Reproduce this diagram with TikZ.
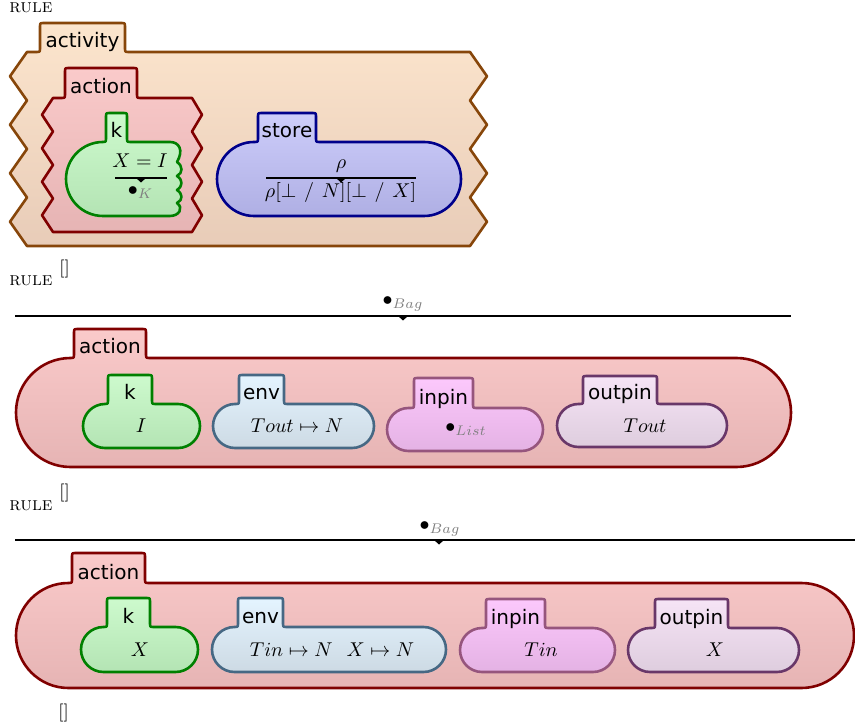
\documentclass[tikz,border=0pt]{standalone}
\usepackage{fontspec}
\newfontfamily\cellfont{DejaVu Sans}
\definecolor{activityT}{RGB}{252,229,205}
\definecolor{activityD}{RGB}{232,204,184}
\definecolor{activityB}{RGB}{135,70,10}
\definecolor{actionT}{RGB}{250,202,202}
\definecolor{actionD}{RGB}{230,180,180}
\definecolor{actionB}{RGB}{128,0,0}
\definecolor{kT}{RGB}{205,250,205}
\definecolor{kD}{RGB}{180,228,180}
\definecolor{kB}{RGB}{0,128,0}
\definecolor{storeT}{RGB}{205,205,250}
\definecolor{storeD}{RGB}{175,175,228}
\definecolor{storeB}{RGB}{0,0,139}
\definecolor{envT}{RGB}{228,244,255}
\definecolor{envD}{RGB}{205,218,228}
\definecolor{envB}{RGB}{70,104,132}
\definecolor{inpinT}{RGB}{252,200,252}
\definecolor{inpinD}{RGB}{228,178,228}
\definecolor{inpinB}{RGB}{150,85,125}
\definecolor{outpinT}{RGB}{246,228,246}
\definecolor{outpinD}{RGB}{222,205,222}
\definecolor{outpinB}{RGB}{105,55,105}
\definecolor{subgray}{RGB}{128,128,128}
\tikzset{
  cellbase/.style={line width=1.3pt, line join=round},
  activitycell/.style={cellbase, draw=activityB, top color=activityT, bottom color=activityD},
  actioncell/.style={cellbase, draw=actionB, top color=actionT, bottom color=actionD},
  kcellst/.style={cellbase, draw=kB, top color=kT, bottom color=kD},
  storecell/.style={cellbase, draw=storeB, top color=storeT, bottom color=storeD},
  envcell/.style={cellbase, draw=envB, top color=envT, bottom color=envD},
  inpincell/.style={cellbase, draw=inpinB, top color=inpinT, bottom color=inpinD},
  outpincell/.style={cellbase, draw=outpinB, top color=outpinT, bottom color=outpinD},
  lbl/.style={font=\cellfont\fontsize{10}{12}\selectfont, anchor=base, inner sep=0pt},
  txt/.style={font=\fontsize{10}{12}\selectfont, anchor=base, inner sep=0pt},
  rulelbl/.style={font=\fontsize{9.5}{11}\selectfont, anchor=base west, inner sep=0pt},
  attrlbl/.style={font=\fontsize{9}{11}\selectfont, anchor=base west, inner sep=0pt},
  ruleline/.style={line width=0.65pt},
  rwline/.style={line width=0.65pt},
}
\newcommand\kcell[8]{%
  \pgfmathsetmacro\kcR{(#5-#4)/2}%
  \path[#1] ({#2+\kcR},#5) arc[start angle=90,end angle=270,radius=\kcR]
    -- ({#6-3},#4) .. controls (#6,#4) .. (#6,{#4-3})
    -- (#6,{#8+3}) .. controls (#6,#8) .. ({#6+3},#8)
    -- ({#7-3},#8) .. controls (#7,#8) .. (#7,{#8+3})
    -- (#7,{#4-3}) .. controls (#7,#4) .. ({#7+3},#4)
    -- ({#3-\kcR},#4) arc[start angle=-90,end angle=90,radius=\kcR] -- cycle;%
}
\newcommand\rwtri[2]{\fill ({#1-5},#2) -- ({#1+5},#2) -- (#1,{#2+4.5}) -- cycle;}
\begin{document}
\begin{tikzpicture}[x=0.5pt,y=-0.5pt]
\useasboundingbox (0,0) rectangle (855,726);
% ---------------- rule 1
\node[rulelbl] (rule1) at (9,13) {\textsc{rule}};
\path[activitycell] (27,52) -- (37,52) .. controls (40,52) .. (40,49) -- (40,26) .. controls (40,23) .. (43,23)
  -- (122,23) .. controls (125,23) .. (125,26) -- (125,49) .. controls (125,52) .. (128,52)
  -- (470,52) -- (487,76.25) -- (470,100.5) -- (487,124.75) -- (470,149) -- (487,173.25) -- (470,197.5) -- (487,221.75) -- (470,246)
  -- (27,246) -- (10,221.75) -- (27,197.5) -- (10,173.25) -- (27,149) -- (10,124.75) -- (27,100.5) -- (10,76.25) -- cycle;
\node[lbl] (activity1) at (82.5,48) {activity};
\path[actioncell] (53,98) -- (62,98) .. controls (65,98) .. (65,95) -- (65,71) .. controls (65,68) .. (68,68)
  -- (134,68) .. controls (137,68) .. (137,71) -- (137,95) .. controls (137,98) .. (140,98)
  -- (192,98) -- (202,114.75) -- (192,131.5) -- (202,148.25) -- (192,165) -- (202,181.75) -- (192,198.5) -- (202,215.25) -- (192,232)
  -- (53,232) -- (42,215.25) -- (53,198.5) -- (42,181.75) -- (53,165) -- (42,148.25) -- (53,131.5) -- (42,114.75) -- cycle;
\node[lbl] (action1) at (101,94) {action};
\path[kcellst] (103,216) arc[start angle=90,end angle=270,radius=37]
  .. controls (106,142) .. (106,139) -- (106,116) .. controls (106,113) .. (109,113)
  -- (124,113) .. controls (127,113) .. (127,116) -- (127,139) .. controls (127,142) .. (130,142)
  -- (170,142) .. controls (179,142) and (184,150) .. (177,162)
  .. controls (183,166) and (183,173) .. (177,176)
  .. controls (183,180) and (183,186) .. (177,190)
  .. controls (183,194) and (183,200) .. (177,203)
  .. controls (184,208) and (179,216) .. (170,216) -- cycle;
\node[lbl] (k1) at (116.5,138) {k};
\node[txt] (k1top) at (140,168) {$X = I$};
\draw[rwline] (115,178) -- (167,178);
\rwtri{141}{178}
\node[txt] (k1bot) at (140.5,196) {$\bullet_{\textcolor{subgray}{K}}$};
\kcell{storecell}{217}{461}{142}{216}{258}{316}{113}
\node[lbl] (store1) at (287,138) {store};
\node[txt] (store1top) at (341,169) {$\rho$};
\draw[rwline] (266,178) -- (416,178);
\rwtri{341}{178}
\node[txt] (store1bot) at (340.5,198) {$\rho[\bot \mathrel{\mskip2mu\textsf{/}\mskip2mu} N][\bot \mathrel{\mskip2mu\textsf{/}\mskip2mu} X]$};
\node[attrlbl] (attr1) at (59,273.5) {[]};
% ---------------- rule 2
\node[rulelbl] (rule2) at (9,286) {\textsc{rule}};
\node[txt] (bag2) at (403,306) {$\bullet_{\textcolor{subgray}{Bag}}$};
\draw[ruleline] (15,316) -- (791,316);
\rwtri{403}{316}
\kcell{actioncell}{16}{791}{358}{467}{74}{146}{329}
\node[lbl] (action2) at (110,354) {action};
\kcell{kcellst}{83}{200}{404}{448}{108}{152}{375}
\node[lbl] (k2) at (130,400) {k};
\node[txt] (k2txt) at (141,432) {$I$};
\kcell{envcell}{213}{374}{404}{448}{239}{284}{375}
\node[lbl] (env2) at (261.5,400) {env};
\node[txt] (env2txt) at (297,432) {$Tout \mapsto N$};
\kcell{inpincell}{387}{543}{408}{451}{414}{473}{378}
\node[lbl] (inpin2) at (443.5,404) {inpin};
\node[txt] (inpin2txt) at (466,432) {$\bullet_{\textcolor{subgray}{List}}$};
\kcell{outpincell}{557}{727}{404}{447}{583}{657}{376}
\node[lbl] (outpin2) at (620,400) {outpin};
\node[txt] (outpin2txt) at (645,432) {$Tout$};
\node[attrlbl] (attr2) at (59,497) {[]};
% ---------------- rule 3
\node[rulelbl] (rule3) at (9,510) {\textsc{rule}};
\node[txt] (bag3) at (440,530) {$\bullet_{\textcolor{subgray}{Bag}}$};
\draw[ruleline] (15,540) -- (855,540);
\rwtri{439}{540}
\kcell{actioncell}{16}{854}{583}{688}{72}{145}{553}
\node[lbl] (action3) at (108.5,579) {action};
\kcell{kcellst}{81}{198}{627}{672}{107}{150}{598}
\node[lbl] (k3) at (128.5,623) {k};
\node[txt] (k3txt) at (140,656) {$X$};
\kcell{envcell}{212}{446}{627}{672}{238}{283}{598}
\node[lbl] (env3) at (260.5,623) {env};
\node[txt] (env3txt) at (332,656) {$Tin \mapsto N\hskip0.7em X \mapsto N$};
\kcell{inpincell}{460}{615}{628}{672}{486}{545}{599}
\node[lbl] (inpin3) at (515.5,624) {inpin};
\node[txt] (inpin3txt) at (541,656) {$Tin$};
\kcell{outpincell}{628}{799}{628}{672}{655}{728}{599}
\node[lbl] (outpin3) at (691.5,624) {outpin};
\node[txt] (outpin3txt) at (715,656) {$X$};
\node[attrlbl] (attr3) at (58,717.5) {[]};
\end{tikzpicture}
\end{document}
